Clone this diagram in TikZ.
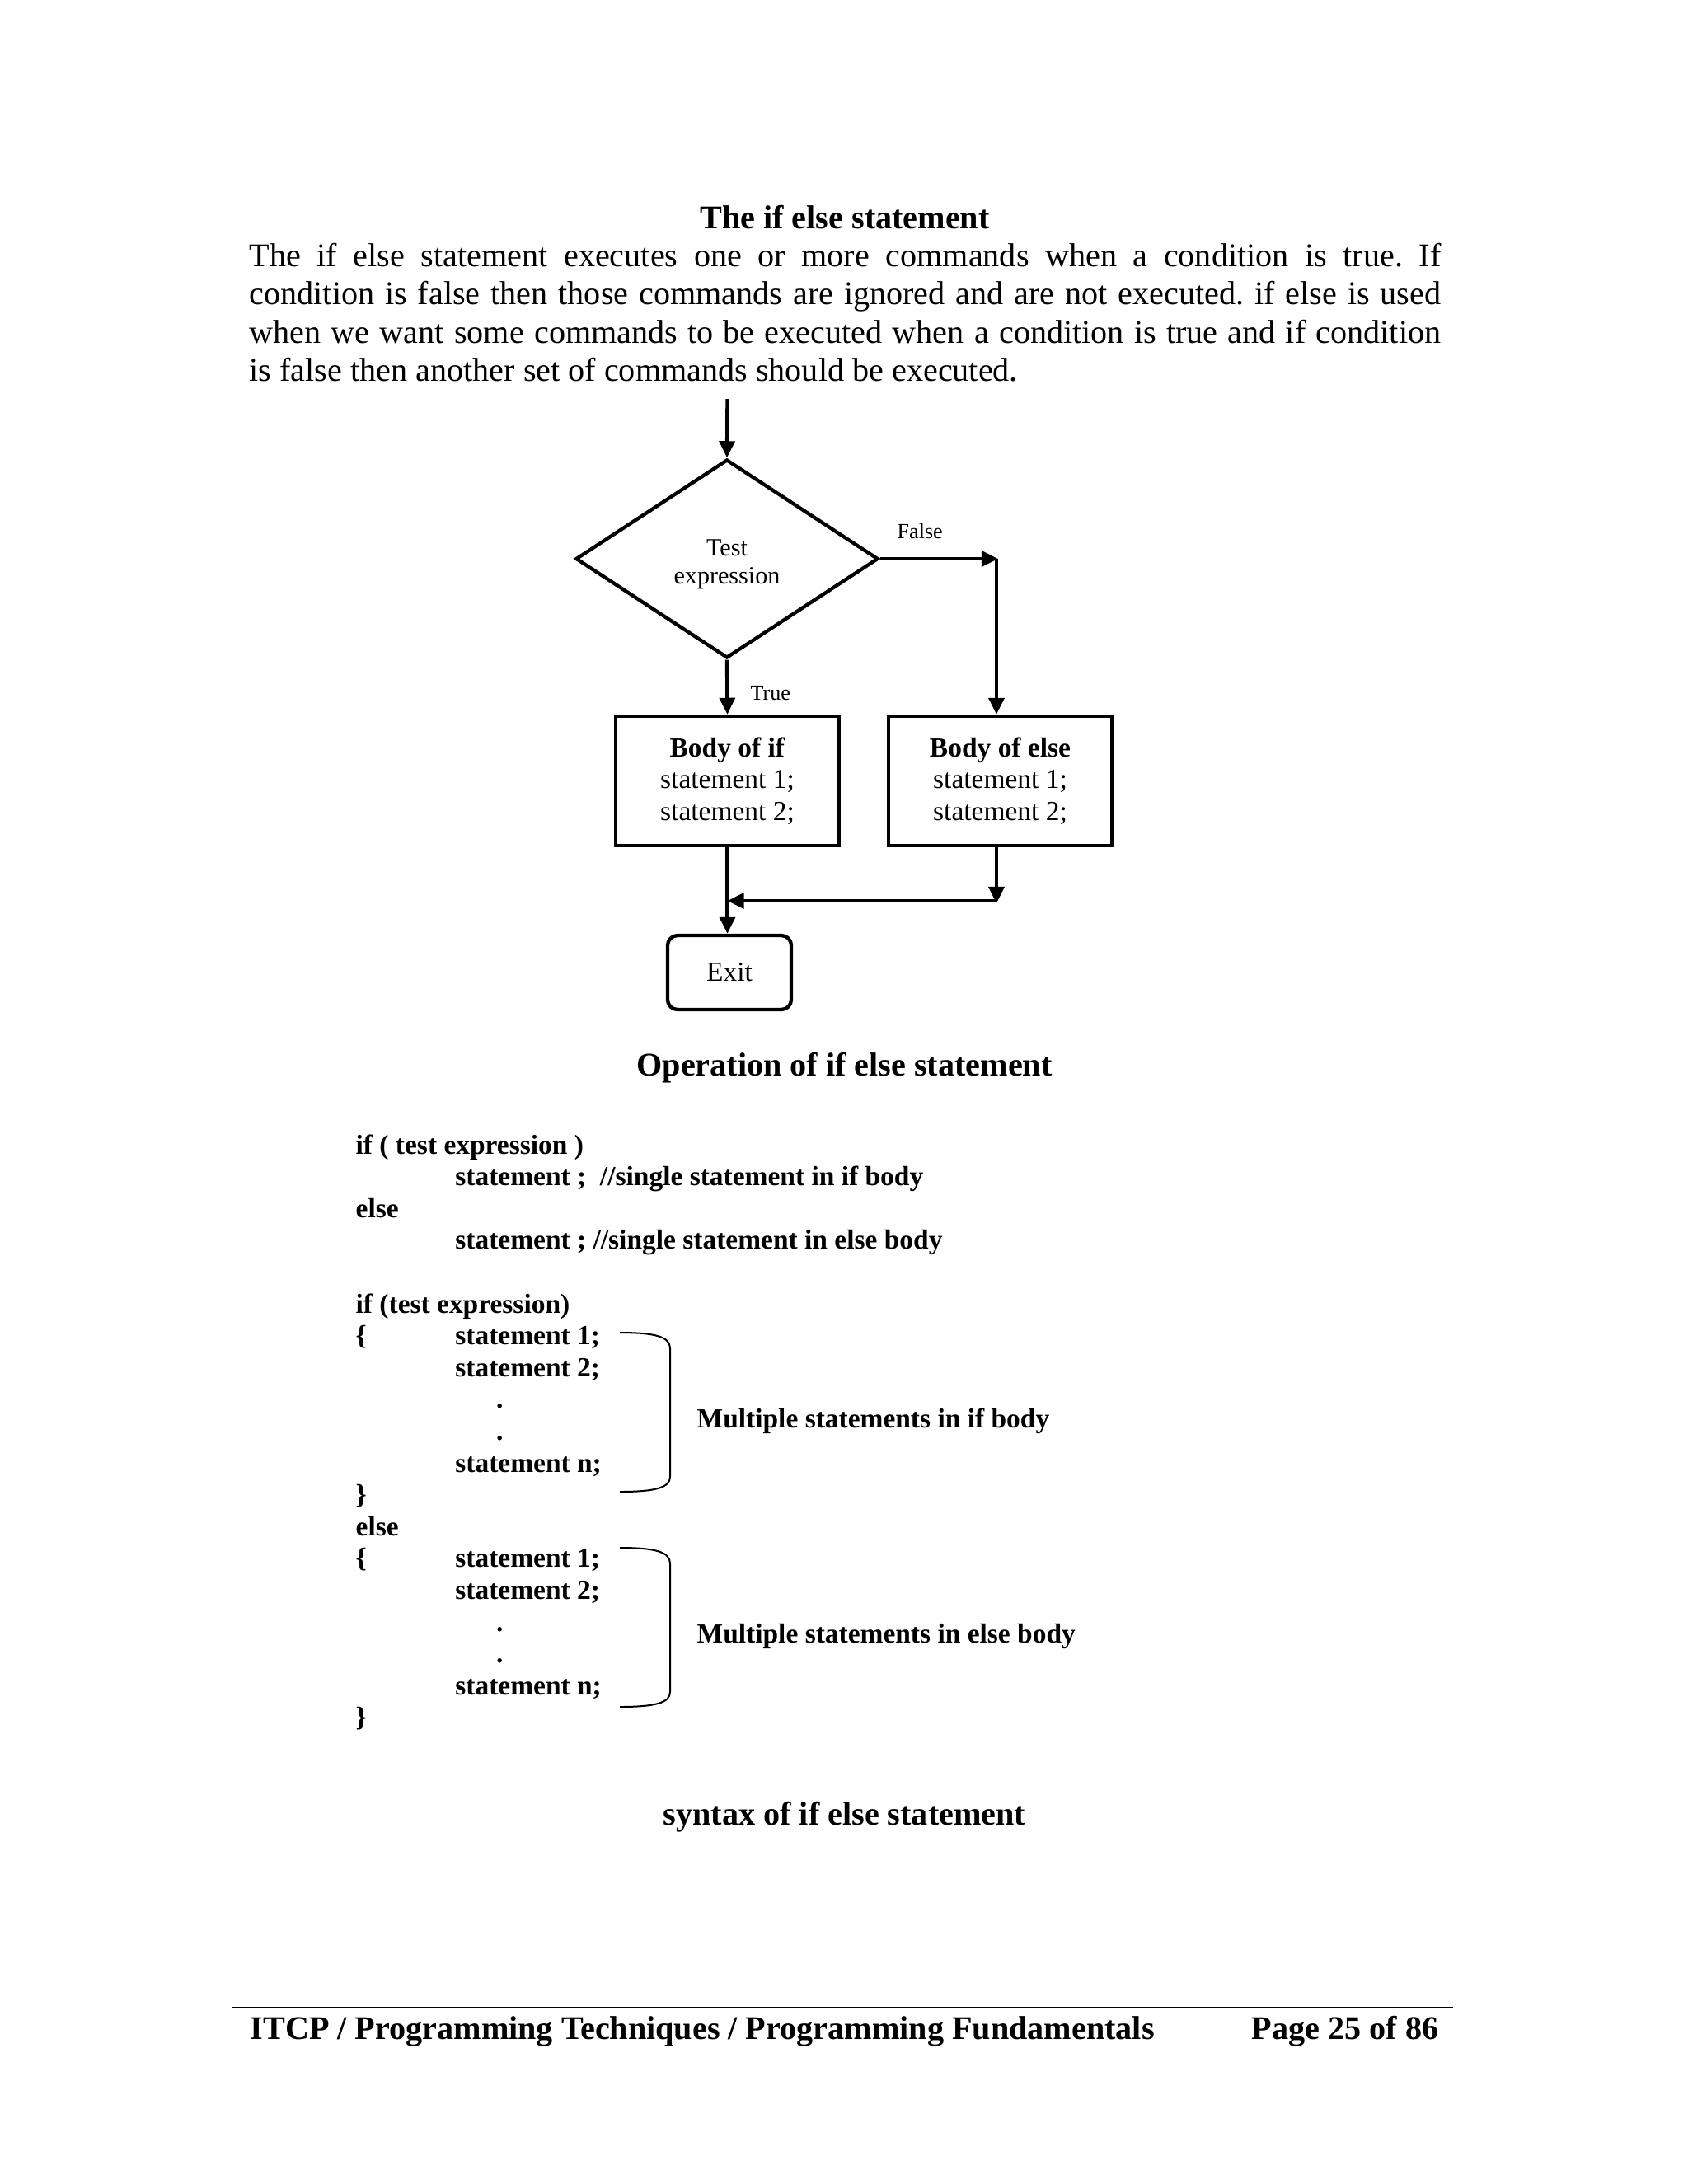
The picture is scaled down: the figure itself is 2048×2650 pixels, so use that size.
\documentclass[tikz,border=0pt]{standalone}
\usepackage{fontspec}
\setmainfont{Liberation Serif}
\usetikzlibrary{shapes.geometric,arrows.meta}
\newcommand\PXu{0.29883pt}
\frenchspacing
\begin{document}
\begin{tikzpicture}[x=0.29883pt,y=-0.29883pt,
  arr/.style={line width=1.3pt,-{Triangle[length=6pt,width=5.6pt]}},
  box/.style={draw,line width=1.3pt,rectangle,minimum width=271*\PXu,minimum height=157*\PXu,inner sep=0pt,align=center,font=\fontsize{10}{11.5}\selectfont},
  bodytext/.style={inner sep=0pt,anchor=base west,font=\fontsize{12}{13.8}\selectfont},
  heading/.style={inner sep=0pt,anchor=base,font=\fontsize{12}{13.8}\selectfont\bfseries},
  code/.style={inner sep=0pt,anchor=base west,font=\fontsize{10}{11.5}\selectfont\bfseries},
  small/.style={inner sep=0pt,anchor=base west,font=\fontsize{7.8}{9}\selectfont},
  brace/.style={line width=0.6pt}
]
\fill[white] (0,0) rectangle (2048,2650);
\useasboundingbox (0,0) rectangle (2048,2650);

% heading and paragraph
\node[heading] (title) at (1025,277) {The if else statement};
\node[bodytext] (p1) at (302,323) {\makebox[432pt][s]{The if else statement executes one or more commands when a condition is true. If}};
\node[bodytext] (p2) at (302,369) {\makebox[432pt][s]{condition is false then those commands are ignored and are not executed. if else is used}};
\node[bodytext] (p3) at (302,416) {\makebox[432pt][s]{when we want some commands to be executed when a condition is true and if condition}};
\node[bodytext] (p4) at (302,462) {is false then another set of commands should be executed.};

% flowchart
\coordinate (start) at (882.5,484);
\node[draw,diamond,line width=1.3pt,minimum width=367*\PXu,minimum height=241*\PXu,inner sep=0pt,
  label={[yshift=-2.1pt,inner sep=0pt,align=center,font=\fontsize{9}{10.2}\selectfont]center:Test\\expression}] (dia) at (882,678) {};
\node[box] (bif) at (882.5,947.5) {\textbf{Body of if}\\statement 1;\\statement 2;};
\node[box] (belse) at (1213.5,947.5) {\textbf{Body of else}\\statement 1;\\statement 2;};
\node[draw,line width=1.3pt,rounded corners=3.6pt,minimum width=150*\PXu,minimum height=90*\PXu,inner sep=0pt,font=\fontsize{10}{11.5}\selectfont] (exit) at (885,1180) {Exit};
\coordinate (fc) at (1211,678);
\coordinate (fv) at (1209,678);
\coordinate (mc) at (1209,1096);
\coordinate (mh) at (1209,1093);

\draw[arr] (start) -- (dia.north);
\draw[arr] (dia.east) -- (fc);
\draw[arr] (fv) -- (belse.north -| fv);
\draw[arr] (dia.south) -- (bif.north);
\draw[arr] (bif.south) -- (exit.north -| bif.south);
\draw[arr] (belse.south -| mc) -- (mc);
\draw[arr] (mh) -- (bif.south |- mh);

\node[small] (false) at (1088,653) {False};
\node[small] (true) at (910,849) {True};

\node[heading] (op) at (1024.5,1305) {Operation of if else statement};

% syntax
\node[code] (c0) at (431,1400) {if ( test expression )};
\node[code] (c1) at (551.7,1438.6) {statement ;\ \ //single statement in if body};
\node[code] (c2) at (431,1477.2) {else};
\node[code] (c3) at (551.7,1515.8) {statement ; //single statement in else body};
\node[code] (c5) at (431,1593) {if (test expression)};
\node[code] (c6a) at (431,1631.6) {\{};
\node[code] (c6) at (551.7,1631.6) {statement 1;};
\node[code] (c7) at (551.7,1670.2) {statement 2;};
\node[code] (c8) at (601.5,1708.8) {.};
\node[code] (c9) at (601.5,1747.4) {.};
\node[code] (c10) at (551.7,1786) {statement n;};
\node[code] (c11) at (431,1824.6) {\}};
\node[code] (c12) at (431,1863.2) {else};
\node[code] (c13a) at (431,1901.8) {\{};
\node[code] (c13) at (551.7,1901.8) {statement 1;};
\node[code] (c14) at (551.7,1940.4) {statement 2;};
\node[code] (c15) at (601.5,1979) {.};
\node[code] (c16) at (601.5,2017.6) {.};
\node[code] (c17) at (551.7,2056.2) {statement n;};
\node[code] (c18) at (431,2094.8) {\}};

\draw[brace] (752,1617) .. controls (795,1617) and (813,1622) .. (813,1636) -- (813,1792) .. controls (813,1805) and (795,1810) .. (752,1810);
\draw[brace] (752,1878) .. controls (795,1878) and (813,1883) .. (813,1897) -- (813,2053) .. controls (813,2066) and (795,2071) .. (752,2071);

\node[code] (mif) at (845,1732) {Multiple statements in if body};
\node[code] (melse) at (845,1993) {Multiple statements in else body};

\node[heading] (syn) at (1024.5,2214) {syntax of if else statement};

% footer
\coordinate (rl) at (282,2436);
\coordinate (rr) at (1763,2436);
\draw[line width=0.6pt] (rl) -- (rr);
\node[inner sep=0pt,anchor=base west,font=\fontsize{12}{13.8}\selectfont\bfseries] (foot) at (303,2474) {ITCP / Programming Techniques / Programming Fundamentals};
\node[inner sep=0pt,anchor=base east,font=\fontsize{12}{13.8}\selectfont\bfseries] (page) at (1746,2474) {Page 25 of 86};
\end{tikzpicture}
\end{document}
